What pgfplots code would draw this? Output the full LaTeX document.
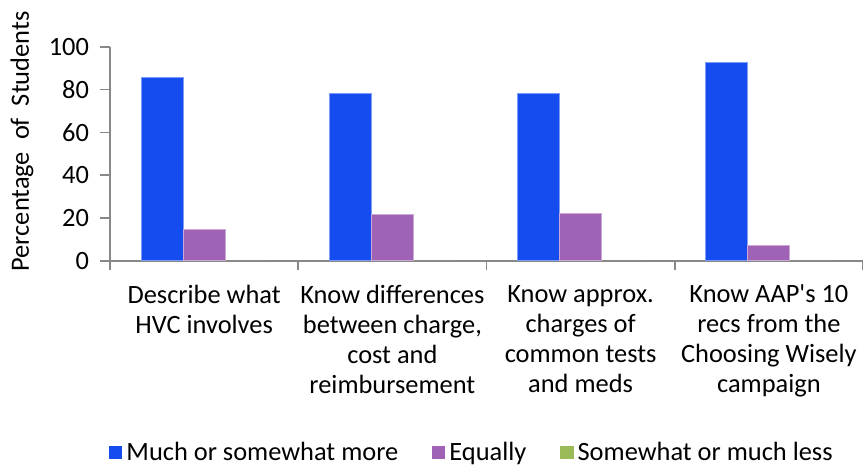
\documentclass[border=0pt]{standalone}
\usepackage{fontspec}
\setmainfont{Carlito}[Ligatures=TeXOff]
\usepackage{pgfplots}
\usepackage{pgfplotstable}
\pgfplotsset{compat=1.18}

\definecolor{moreblue}{RGB}{21,76,240}
\definecolor{equalpurple}{RGB}{160,98,180}
\definecolor{lessgreen}{RGB}{155,187,89}
\definecolor{axisgray}{RGB}{136,136,136}
\definecolor{bgedge}{RGB}{236,243,251}

\pgfdeclarehorizontalshading{bgshade}{100bp}{color(0bp)=(bgedge); color(22bp)=(white); color(78bp)=(white); color(100bp)=(bgedge)}

\pgfplotstableread{
x more equal less
0 85.5 14.5 0
1 78.2 21.8 0
2 78.0 22.0 0
3 92.7 7.3 0
}\hvcdata

\begin{document}
\begin{tikzpicture}
% page background
\shade[shading=bgshade] (-55pt,-105pt) rectangle (376.5pt,130.5pt);
\path[use as bounding box] (-55pt,-105pt) rectangle (376.5pt,130.5pt);
\begin{axis}[
  at={(0,0)}, anchor=south west,
  scale only axis,
  width=376.5pt, height=107.15pt,
  font=\fontsize{13.2}{15}\selectfont,
  /pgf/number format/assume math mode=true,
  ybar=0pt,
  bar width=21pt,
  xmin=-0.5, xmax=3.5,
  ymin=0, ymax=100,
  ytick={0,20,...,100},
  xtick={0,1,2,3},
  minor xtick={-0.5,0.5,1.5,2.5,3.5},
  xticklabels={
    {Describe what\\HVC involves},
    {Know differences\\between charge,\\cost and\\reimbursement},
    {Know approx.\\charges of\\common tests\\and meds},
    {Know AAP's 10\\recs from the\\Choosing Wisely\\campaign}},
  x tick label style={align=center, yshift=-3.5pt},
  y tick label style={xshift=-2pt},
  axis x line*=bottom,
  axis y line*=left,
  axis line style={axisgray, line width=0.8pt},
  tick align=outside,
  major tick length=5pt,
  minor tick length=4.5pt,
  x tick style={draw=none},
  minor x tick style={draw=axisgray, line width=0.8pt},
  y tick style={axisgray, line width=0.8pt},
  ylabel={Percentage\ \ of\ \ Students},
  ylabel style={at={(axis description cs:-0.1169,0.558)}, anchor=center},
  legend columns=3,
  legend style={at={(0.482,-0.895)}, anchor=center, draw=none, fill=none,
    /tikz/every even column/.append style={column sep=15pt}},
  legend image code/.code={\fill[#1,draw=none] (0pt,-3.3pt) rectangle (6.6pt,3.3pt);},
]
\addplot[fill=moreblue, draw=moreblue!55!white, line width=0.5pt] table[x=x, y=more] {\hvcdata};
\addplot[fill=equalpurple, draw=equalpurple!55!white, line width=0.5pt] table[x=x, y=equal] {\hvcdata};
\addplot[fill=lessgreen, draw=none] table[x=x, y=less] {\hvcdata};
\legend{Much or somewhat more, Equally, Somewhat or much less}
\end{axis}
\end{tikzpicture}
\end{document}
